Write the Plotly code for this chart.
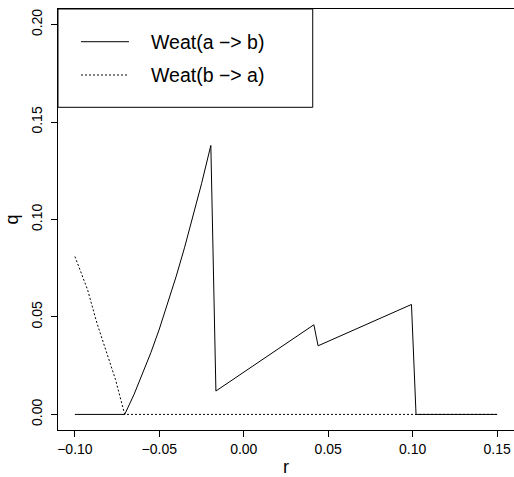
import plotly.graph_objects as go

# Weat(a -> b): flat, convex rise, then three saw-tooth drops
r_ab = [-0.10, -0.0705, -0.065, -0.06, -0.055, -0.05, -0.045, -0.04, -0.035,
        -0.03, -0.025, -0.0195, -0.0165, 0.0415, 0.044, 0.0993, 0.102, 0.15]
q_ab = [0.0, 0.0, 0.0102, 0.0205, 0.0317, 0.0438, 0.0569, 0.0709, 0.0858,
        0.1017, 0.1184, 0.1380, 0.0120, 0.0460, 0.0352, 0.0564, 0.0, 0.0]

# Weat(b -> a): decreasing to zero, then flat
r_ba = [-0.10, -0.0925, -0.087, -0.080, -0.076, -0.0705, 0.15]
q_ba = [0.081, 0.064, 0.047, 0.028, 0.018, 0.0, 0.0]

x_ticks = [-0.10, -0.05, 0.00, 0.05, 0.10, 0.15]
y_ticks = [0.00, 0.05, 0.10, 0.15, 0.20]
series_names = ["Weat(a −> b)", "Weat(b −> a)"]

FONT = "Liberation Sans, Arial, Helvetica, sans-serif"
DOT = "2px,2px"

fig = go.Figure()
fig.add_trace(go.Scatter(x=r_ba, y=q_ba, mode="lines",
                         line=dict(color="black", width=1, dash=DOT),
                         showlegend=False))
fig.add_trace(go.Scatter(x=r_ab, y=q_ab, mode="lines",
                         line=dict(color="black", width=1),
                         showlegend=False))

axis_common = dict(
    showgrid=False, zeroline=False, showline=True, linecolor="black",
    linewidth=1, mirror=True, ticks="outside", ticklen=6, tickcolor="black",
    tickfont=dict(family=FONT, size=14, color="black"),
)
fig.update_xaxes(range=[-0.11, 0.16], tickvals=x_ticks, tickformat=".2f",
                 title=dict(text="r", font=dict(family=FONT, size=18, color="black"),
                            standoff=6),
                 **axis_common)
fig.update_yaxes(range=[-0.008, 0.208], tickvals=y_ticks, tickformat=".2f",
                 tickangle=-90, ticklabelstandoff=3,
                 title=dict(text="q", font=dict(family=FONT, size=18, color="black"),
                            standoff=6),
                 **axis_common)

# legend box in the top-left corner
fig.add_shape(type="rect", xref="paper", yref="paper", x0=0, x1=0.5586,
              y0=0.7665, y1=1, line=dict(color="black", width=1),
              fillcolor="white")
rows = [0.9223, 0.8432]
styles = ["solid", DOT]
for yy, name, st in zip(rows, series_names, styles):
    fig.add_shape(type="line", xref="paper", yref="paper", x0=0.0504,
                  x1=0.1557, y0=yy, y1=yy,
                  line=dict(color="black", width=1, dash=st))
    fig.add_annotation(xref="paper", yref="paper", x=0.2, y=yy,
                       text=name, showarrow=False, xanchor="left",
                       yanchor="middle",
                       font=dict(family=FONT, size=19.5, color="black"))

fig.update_layout(
    width=514, height=477,
    margin=dict(l=58, r=0, t=9, b=47),
    plot_bgcolor="white", paper_bgcolor="white",
)

fig.write_html("out.html")
